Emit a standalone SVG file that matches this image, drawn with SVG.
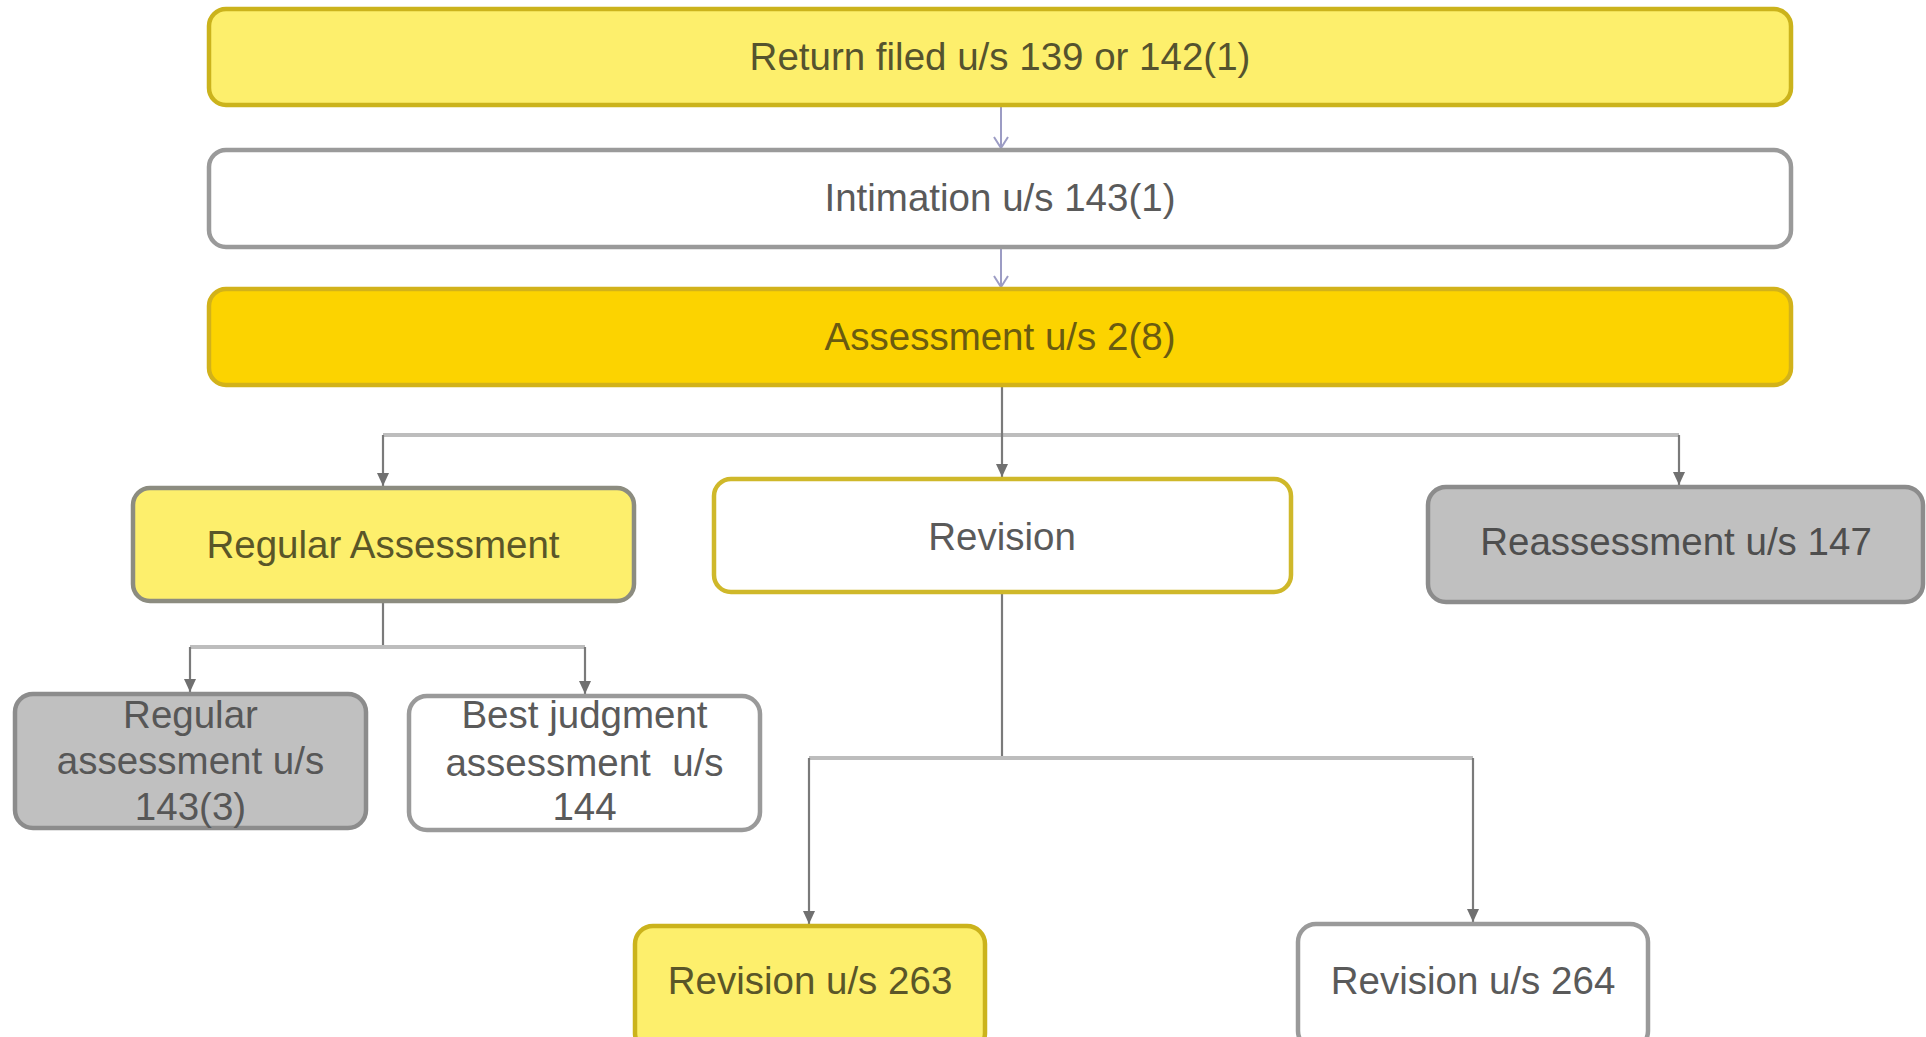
<svg xmlns="http://www.w3.org/2000/svg" width="1926" height="1037" viewBox="0 0 1926 1037">
<style>
.box{stroke-width:4.5}
.t{font-family:"Liberation Sans",Arial,sans-serif;font-size:38.5px;text-anchor:middle}
.yl{fill:#fdef6c;stroke:#cbb31c}
.gd{fill:#fcd300;stroke:#d2b21a}
.wg{fill:#ffffff;stroke:#9a9a9a}
.wy{fill:#ffffff;stroke:#cfb82a}
.gr{fill:#c0c0c0;stroke:#8c8c8c}
.ylg{fill:#fdef6c;stroke:#8c8c80}
.v{stroke:#7a7a7a;stroke-width:2.2;fill:none}
.h{stroke:#bdbdbd;stroke-width:4;fill:none}
.c{stroke:#9c9cc4;stroke-width:2;fill:none}
</style>
<defs>
<marker id="ah" markerWidth="13" markerHeight="12" refX="13" refY="6" orient="auto" markerUnits="userSpaceOnUse" viewBox="0 0 13 12">
<path d="M0,0 L13,6 L0,12 Z" fill="#707070"/>
</marker>
<marker id="chev" markerWidth="16" markerHeight="14" refX="8" refY="13" markerUnits="userSpaceOnUse" viewBox="0 0 16 14">
<path d="M1,2 L8,13 L15,2" fill="none" stroke="#9c9cc4" stroke-width="2"/>
</marker>
</defs>
<rect width="1926" height="1037" fill="#ffffff"/>
<g id="connectors">
<line class="c" x1="1001" y1="107" x2="1001" y2="148" marker-end="url(#chev)"/>
<line class="c" x1="1001" y1="249" x2="1001" y2="287" marker-end="url(#chev)"/>
<line class="h" x1="383" y1="435" x2="1679" y2="435"/>
<line class="v" x1="1002" y1="387" x2="1002" y2="477" marker-end="url(#ah)"/>
<line class="v" x1="383" y1="435" x2="383" y2="486" marker-end="url(#ah)"/>
<line class="v" x1="1679" y1="435" x2="1679" y2="485" marker-end="url(#ah)"/>
<line class="v" x1="383" y1="603" x2="383" y2="647"/>
<line class="h" x1="190" y1="647" x2="585" y2="647"/>
<line class="v" x1="190" y1="647" x2="190" y2="692" marker-end="url(#ah)"/>
<line class="v" x1="585" y1="647" x2="585" y2="694" marker-end="url(#ah)"/>
<line class="v" x1="1002" y1="594" x2="1002" y2="758"/>
<line class="h" x1="809" y1="758" x2="1473" y2="758"/>
<line class="v" x1="809" y1="758" x2="809" y2="924" marker-end="url(#ah)"/>
<line class="v" x1="1473" y1="758" x2="1473" y2="922" marker-end="url(#ah)"/>
</g>
<g id="return-filed">
<rect class="box yl" x="209" y="9" width="1582" height="96" rx="17"/>
<text class="t" x="1000" y="70" fill="#55532e">Return filed u/s 139 or 142(1)</text>
</g>
<g id="intimation">
<rect class="box wg" x="209" y="150" width="1582" height="97" rx="17"/>
<text class="t" x="1000" y="211" fill="#5a5a5a">Intimation u/s 143(1)</text>
</g>
<g id="assessment">
<rect class="box gd" x="209" y="289" width="1582" height="96" rx="17"/>
<text class="t" x="1000" y="350" fill="#6a5b10">Assessment u/s 2(8)</text>
</g>
<g id="regular-assessment">
<rect class="box ylg" x="133" y="488" width="501" height="113" rx="17"/>
<text class="t" x="383" y="558" fill="#5a5628">Regular Assessment</text>
</g>
<g id="revision">
<rect class="box wy" x="714" y="479" width="577" height="113" rx="17"/>
<text class="t" x="1002" y="550" fill="#5a5a5a">Revision</text>
</g>
<g id="reassessment">
<rect class="box gr" x="1428" y="487" width="495" height="115" rx="18"/>
<text class="t" x="1676" y="555" fill="#4e4e4e">Reassessment u/s 147</text>
</g>
<g id="regular-assessment-143-3">
<rect class="box gr" x="15" y="694" width="351" height="134" rx="18"/>
<text class="t" x="190.5" y="728" fill="#575757">Regular</text>
<text class="t" x="190.5" y="774" fill="#575757">assessment u/s</text>
<text class="t" x="190.5" y="820" fill="#575757">143(3)</text>
</g>
<g id="best-judgment-144">
<rect class="box wg" x="409" y="696" width="351" height="134" rx="18"/>
<text class="t" x="584.5" y="728" fill="#5a5a5a">Best judgment</text>
<text class="t" x="584.5" y="776" fill="#5a5a5a" xml:space="preserve">assessment  u/s</text>
<text class="t" x="584.5" y="820" fill="#5a5a5a">144</text>
</g>
<g id="revision-263">
<rect class="box yl" x="635" y="926" width="350" height="125" rx="18"/>
<text class="t" x="810" y="994" fill="#5a5628">Revision u/s 263</text>
</g>
<g id="revision-264">
<rect class="box wg" x="1298" y="924" width="350" height="125" rx="18"/>
<text class="t" x="1473" y="994" fill="#5a5a5a">Revision u/s 264</text>
</g>
</svg>
